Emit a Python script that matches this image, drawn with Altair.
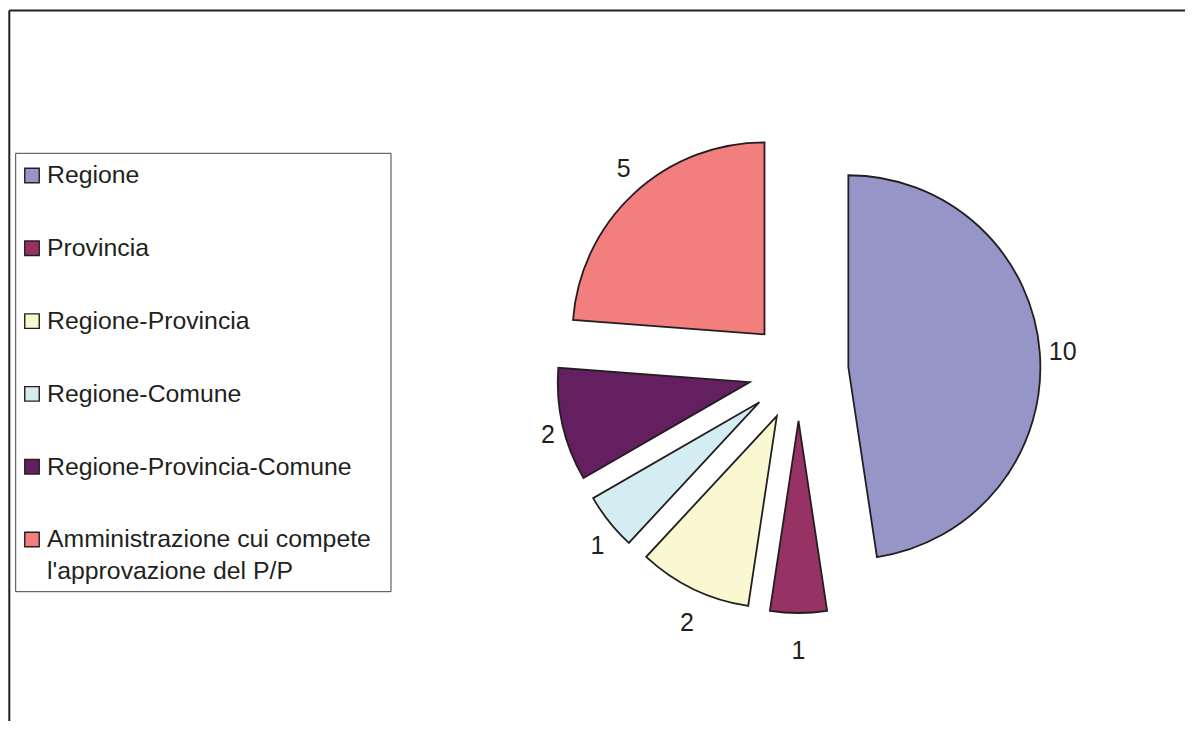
import math
import altair as alt
import pandas as pd

# ---- data ----
categories = ["Regione", "Provincia", "Regione-Provincia", "Regione-Comune",
              "Regione-Provincia-Comune",
              "Amministrazione cui compete\nl'approvazione del P/P"]
values = [10, 1, 2, 1, 2, 5]
colors = ["#9595C8", "#963264", "#FAF8D0", "#D4EDF3", "#631F60", "#F27E7E"]

# ---- layout ----
W, H = 1177, 713
CX, CY = 790.5, 363.0
R = 192
EXPLODE = 50
LAB_AX0 = 199.0   # horizontal label distance (base)
LAB_AXC = 8.0     # extra horizontal distance per character
LAB_AY = 228.0    # vertical label distance
FONT = "Liberation Sans"
INK = "#231F20"

total = sum(values)
df = pd.DataFrame({"cat": categories, "value": values, "idx": list(range(len(values)))})

base = alt.Chart(df).transform_window(
    cum1="sum(value)", sort=[alt.SortField("idx")], frame=[None, 0]
).transform_calculate(
    cum0="datum.cum1 - datum.value",
    mid=f"(datum.cum1 - datum.value / 2) / {total} * 2 * PI",
    nch="length(toString(datum.value))",
).transform_calculate(
    ex=f"{CX} + {EXPLODE} * sin(datum.mid)",
    ey=f"{CY} - {EXPLODE} * cos(datum.mid)",
).transform_calculate(
    lx=f"datum.ex + ({LAB_AX0} + {LAB_AXC} * datum.nch) * sin(datum.mid)",
    ly=f"datum.ey - {LAB_AY} * cos(datum.mid) + 2",
)

color_scale = alt.Scale(domain=categories, range=colors)

slices = base.mark_arc(radius=R, stroke=INK, strokeWidth=1.8).encode(
    theta=alt.Theta("cum0:Q", scale=alt.Scale(domain=[0, total], range=[0, 2 * math.pi])),
    theta2="cum1:Q",
    x=alt.X("ex:Q", scale=None, axis=None),
    y=alt.Y("ey:Q", scale=None, axis=None),
    color=alt.Color("cat:N", scale=color_scale, legend=None),
)

labels = base.mark_text(font=FONT, fontSize=25, color=INK,
                        align="center", baseline="middle").encode(
    x=alt.X("lx:Q", scale=None, axis=None),
    y=alt.Y("ly:Q", scale=None, axis=None),
    text=alt.Text("value:Q"),
)

# manual legend
leg_base = alt.Chart(df).transform_calculate(
    sx="24",
    sy="167.5 + 72.8 * datum.idx",
    tx="39",
    ty="175.3 + 72.8 * datum.idx",
)
leg_sym = leg_base.mark_point(shape="square", filled=True, size=210,
                              stroke=INK, strokeWidth=1.4, opacity=1).encode(
    x=alt.X("sx:Q", scale=None, axis=None),
    y=alt.Y("sy:Q", scale=None, axis=None),
    fill=alt.Fill("cat:N", scale=color_scale, legend=None),
)
leg_txt = leg_base.mark_text(font=FONT, fontSize=24.8, color=INK, align="left",
                             baseline="alphabetic", lineBreak="\n",
                             lineHeight=32).encode(
    x=alt.X("tx:Q", scale=None, axis=None),
    y=alt.Y("ty:Q", scale=None, axis=None),
    text="cat:N",
)

one = alt.Chart(pd.DataFrame({"a": [0]}))
box = one.mark_rect(fill="white", stroke="#444444", strokeWidth=1).encode(
    x=alt.value(7.7), x2=alt.value(383), y=alt.value(145.3), y2=alt.value(583.7)
)
frame_top = one.mark_rule(color=INK, strokeWidth=2).encode(
    x=alt.value(1.3), x2=alt.value(W), y=alt.value(2.5)
)
frame_left = one.mark_rule(color=INK, strokeWidth=2).encode(
    x=alt.value(1.3), y=alt.value(2.5), y2=alt.value(H)
)

chart = alt.layer(
    frame_top, frame_left, box, slices, labels, leg_sym, leg_txt
).properties(
    width=W, height=H, padding=0, autosize="none", background="white"
).configure_view(stroke=None)

chart.save("out.html", embed_options={"renderer": "svg", "actions": False})
